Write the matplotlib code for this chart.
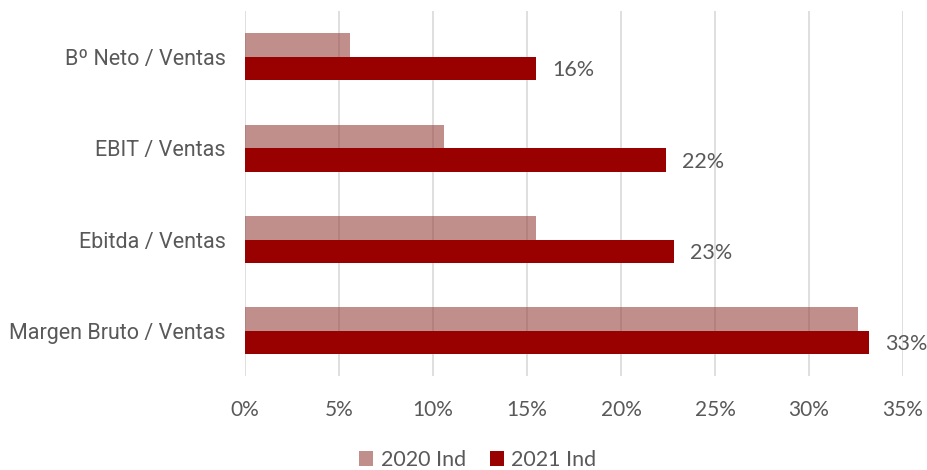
import matplotlib.pyplot as plt
import numpy as np
from matplotlib.ticker import FuncFormatter

# margin ratios, top to bottom as they appear on the chart
categories = ["Bº Neto / Ventas", "EBIT / Ventas", "Ebitda / Ventas", "Margen Bruto / Ventas"]
ind_2020 = [5.6, 10.6, 15.5, 32.6]
ind_2021 = [15.5, 22.4, 22.8, 33.2]
series_names = ["2020 Ind", "2021 Ind"]
x_ticks = [0, 5, 10, 15, 20, 25, 30, 35]

dark_red = "#990000"
light_red = (150 / 255, 68 / 255, 63 / 255, 0.6)
text_gray = "#595959"

fig = plt.figure(figsize=(9.28, 4.70), dpi=100)
ax = fig.add_axes([0.264, 0.199, 0.709, 0.777])

y = np.arange(len(categories))
h = 0.257

ax.barh(y - h / 2, ind_2020, height=h, color=light_red, zorder=3, label=series_names[0])
ax.barh(y + h / 2, ind_2021, height=h, color=dark_red, zorder=3, label=series_names[1])

for yi, v in zip(y, ind_2021):
    ax.text(v + 0.85, yi + h / 2 + 0.02, f"{v:.0f}%", va="center", ha="left",
            fontsize=15.5, color=text_gray, family="Lato")

ax.set_xlim(0, 35)
ax.set_ylim(3.5, -0.5)
ax.set_xticks(x_ticks)
ax.xaxis.set_major_formatter(FuncFormatter(lambda v, p: f"{v:.0f}%"))
ax.set_yticks(y)
ax.set_yticklabels(categories, family="Roboto", fontsize=15.5, color=text_gray)
for lbl in ax.get_xticklabels():
    lbl.set_family("Lato")
    lbl.set_fontsize(15)
    lbl.set_color(text_gray)

ax.tick_params(axis="x", length=0, pad=17)
ax.tick_params(axis="y", length=0, pad=14)
ax.grid(axis="x", color="#d9d9d9", linewidth=1.2, zorder=0)
ax.set_axisbelow(True)
for s in ax.spines.values():
    s.set_visible(False)

fig.legend(loc="center", bbox_to_anchor=(0.515, 0.021), ncol=2, frameon=False,
           prop={"family": "Lato", "size": 15.5}, labelcolor=text_gray,
           handlelength=0.65, handleheight=0.65, handletextpad=0.35, columnspacing=1.1)

fig.savefig("out.png", dpi=100)
